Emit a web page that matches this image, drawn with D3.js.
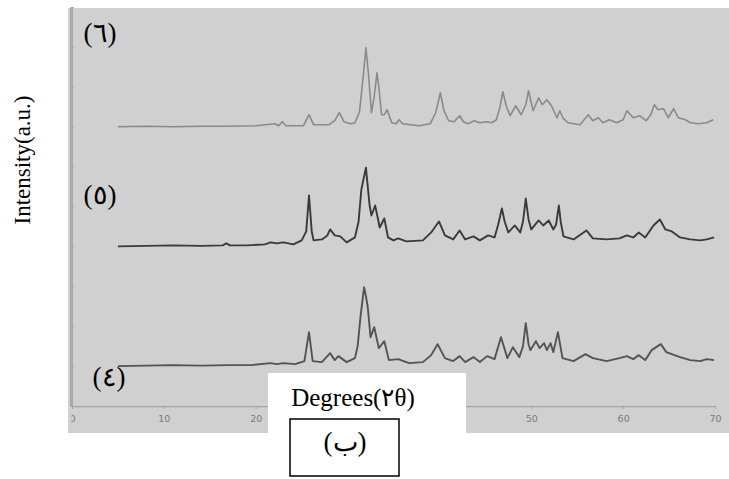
<!DOCTYPE html>
<html>
<head>
<meta charset="utf-8">
<script src="https://cdn.jsdelivr.net/npm/d3@7"></script>
<style>
  body { margin: 0; background: #fff; }
  .tick text { font-family: "DejaVu Sans", sans-serif; }
</style>
</head>
<body>
<div id="chart"></div>
<script>
// 2-theta ticks on the bottom axis
const xTicks = [0, 10, 20, 30, 40, 50, 60, 70];
const seriesLabels = ["(٤)", "(٥)", "(٦)"];
// vertical offset of each pattern in a.u.
const seriesOffsets = [40, 160, 280];

// [2theta, intensity above baseline]
const pattern4 = [[5,0],[8,0.5],[11,1],[14,0.5],[17,1],[19.5,1],[21.6,3],[22.3,2],[23,3],[24.3,2],[25.3,5],[25.8,34],[26.2,5],[27.2,4],[28.1,13],[28.6,6],[29.0,10],[29.9,4],[30.8,8],[31.1,20],[31.4,49],[31.8,79],[32.0,70],[32.2,59],[32.5,29],[32.9,39],[33.4,18],[34.0,25],[34.5,6],[35.5,7],[36.7,3],[38.2,4],[39.1,11],[39.8,22],[40.6,8],[41.5,5],[42.2,10],[42.8,4],[43.7,9],[44.4,4],[45.2,10],[46.0,7],[46.7,29],[47.4,8],[48.0,19],[48.7,9],[49.1,20],[49.4,43],[49.7,22],[49.9,16],[50.5,25],[50.9,18],[51.4,23],[51.7,16],[52.1,23],[52.4,14],[52.9,34],[53.4,8],[54.6,5],[55.9,12],[56.7,8],[58.2,5],[59.6,8],[60.4,10],[61.1,7],[61.7,11],[62.4,6],[63.1,16],[64.1,22],[64.7,14],[65.3,12],[66.2,9],[67.3,6],[68.4,5],[69.1,7],[69.9,6]];

const pattern5 = [[5,0],[8,0.5],[11,1],[14,0.5],[16.4,1],[16.8,3],[17.2,1],[19,1],[21,2],[21.6,4],[22.3,3],[23,4],[24.1,2],[25.0,6],[25.5,15],[25.8,51],[26.1,15],[26.3,6],[27.2,7],[27.8,11],[28.1,17],[28.6,11],[29.2,10],[29.9,4],[30.8,9],[31.2,25],[31.5,57],[32.0,79],[32.2,60],[32.4,41],[32.6,31],[33.0,41],[33.3,28],[33.5,19],[34.0,28],[34.4,9],[35.0,6],[35.5,8],[36.4,5],[38.2,6],[39.1,14],[39.95,25],[40.6,11],[41.5,7],[42.2,16],[42.8,7],[43.7,10],[44.4,6],[45.3,11],[46.0,9],[46.4,22],[46.8,38],[47.1,25],[47.5,14],[48.2,21],[48.8,14],[49.1,25],[49.4,48],[49.7,27],[50.0,17],[50.8,26],[51.3,21],[51.9,26],[52.4,17],[52.7,22],[53.0,41],[53.2,25],[53.5,10],[54.6,7],[56.0,16],[56.7,8],[58.2,7],[59.6,8],[60.4,11],[61.1,9],[61.7,14],[62.4,9],[63.3,21],[64.0,27],[64.6,17],[65.3,15],[66.2,9],[67.3,7],[68.4,6],[69.1,7],[69.9,9]];

const pattern6 = [[5,0],[8,0.5],[11,0],[14,0.5],[17,0.5],[20,1],[22.1,3],[22.5,1],[22.9,5],[23.3,1],[25.2,1],[25.8,12],[26.3,2],[28.0,2],[28.6,6],[29.1,14],[29.6,5],[30.3,3],[30.8,4],[31.3,15],[31.7,50],[32.0,79],[32.3,50],[32.6,14],[32.9,30],[33.2,54],[33.4,40],[33.7,12],[34.0,12],[34.3,17],[34.8,4],[35.3,3],[35.6,7],[36.0,3],[37.8,1],[39.0,3],[39.6,14],[40.1,34],[40.5,16],[41.0,6],[41.6,5],[42.2,11],[42.6,5],[43.1,3],[43.8,6],[44.4,4],[45.1,5],[45.7,4],[46.2,7],[46.6,20],[46.9,35],[47.3,20],[47.7,11],[48.3,21],[48.9,12],[49.4,22],[49.7,36],[50.2,16],[50.8,29],[51.2,22],[51.7,27],[52.2,21],[52.8,9],[53.1,16],[53.5,8],[54.0,4],[55.3,2],[56.2,12],[56.7,6],[57.3,9],[57.8,4],[58.5,7],[59.3,4],[60.0,7],[60.4,16],[61.1,9],[61.8,11],[62.5,6],[63.0,12],[63.4,22],[63.8,17],[64.4,18],[64.9,9],[65.5,18],[66.0,9],[66.8,7],[67.3,4],[68.2,3],[69.1,4],[69.8,7]];

const patterns = [pattern4, pattern5, pattern6];
const lineColors = ["#545454", "#3a3a3a", "#8a8a8a"];

const W = 729, H = 479;
const svg = d3.select("#chart").append("svg")
  .attr("width", W)
  .attr("height", H)
  .style("display", "block");

// grey plot panel
svg.append("rect")
  .attr("x", 68).attr("y", 8)
  .attr("width", W - 68).attr("height", 425)
  .attr("fill", "#d0d0d0");

// the "0" label is cut by the panel edge in the source
svg.append("clipPath").attr("id", "panel-clip")
  .append("rect")
  .attr("x", 71.5).attr("y", 0)
  .attr("width", W - 71.5).attr("height", H);

const x = d3.scaleLinear().domain([0, 70]).range([72, 715]);
const y = d3.scaleLinear().domain([0, 400]).range([406, 7]);

// axes
const xAxis = svg.append("g")
  .attr("transform", "translate(0,406)")
  .call(d3.axisBottom(x).tickValues(xTicks).tickSize(3).tickPadding(6).tickSizeOuter(0));
xAxis.select(".domain").attr("stroke", "#a4a4a4").attr("stroke-width", 1.5);
xAxis.selectAll(".tick line").attr("stroke", "#a4a4a4");
xAxis.selectAll(".tick text")
  .attr("fill", "#7a7a7a")
  .attr("font-size", 9.5)
  .attr("clip-path", d => d === 0 ? null : null);
xAxis.selectAll(".tick").filter(d => d === 0).select("text")
  .attr("transform", "translate(0,0)");
xAxis.attr("clip-path", "url(#panel-clip)");

const yAxis = svg.append("g")
  .attr("transform", "translate(71,0)")
  .call(d3.axisLeft(y).tickValues(d3.range(0, 401, 40)).tickSize(-3).tickFormat("").tickSizeOuter(0));
yAxis.select(".domain").attr("stroke", "#a8a8a8").attr("stroke-width", 3);
yAxis.selectAll(".tick line").attr("stroke", "#a8a8a8");

// the three patterns
const line = d3.line()
  .x(d => x(d[0]))
  .y(d => y(d[1]));

patterns.forEach((p, i) => {
  svg.append("path")
    .datum(p.map(d => [d[0], d[1] + seriesOffsets[i]]))
    .attr("fill", "none")
    .attr("stroke", lineColors[i])
    .attr("stroke-width", i === 2 ? 1.6 : 1.9)
    .attr("stroke-linejoin", "round")
    .attr("d", line);
});

// pattern labels
const labelPos = [[109, 377], [100, 195], [100, 33]];
svg.selectAll(".plabel")
  .data(seriesLabels)
  .enter().append("text")
  .attr("class", "plabel")
  .attr("x", (d, i) => labelPos[i][0])
  .attr("y", (d, i) => labelPos[i][1])
  .attr("dy", "0.35em")
  .attr("text-anchor", "middle")
  .attr("font-family", "Liberation Serif, DejaVu Serif, serif")
  .attr("font-size", 27)
  .text(d => d);

// y label
svg.append("text")
  .attr("transform", "translate(22,160) rotate(-90)")
  .attr("text-anchor", "middle")
  .attr("dy", "0.35em")
  .attr("font-family", "Liberation Serif, serif")
  .attr("font-size", 23)
  .text("Intensity(a.u.)");

// x label on white box
svg.append("rect")
  .attr("x", 268).attr("y", 373)
  .attr("width", 198).attr("height", 60)
  .attr("fill", "#fff");
svg.append("text")
  .attr("x", 353).attr("y", 406)
  .attr("text-anchor", "middle")
  .attr("font-family", "Liberation Serif, serif")
  .attr("font-size", 25)
  .text("Degrees(٢θ)");

svg.append("rect")
  .attr("x", 290).attr("y", 419)
  .attr("width", 109).attr("height", 57)
  .attr("fill", "#fff")
  .attr("stroke", "#000")
  .attr("stroke-width", 1.5);
svg.append("text")
  .attr("x", 345).attr("y", 442)
  .attr("dy", "0.35em")
  .attr("text-anchor", "middle")
  .attr("font-family", "Liberation Serif, DejaVu Serif, serif")
  .attr("font-size", 27)
  .text("(ب)");
</script>
</body>
</html>
